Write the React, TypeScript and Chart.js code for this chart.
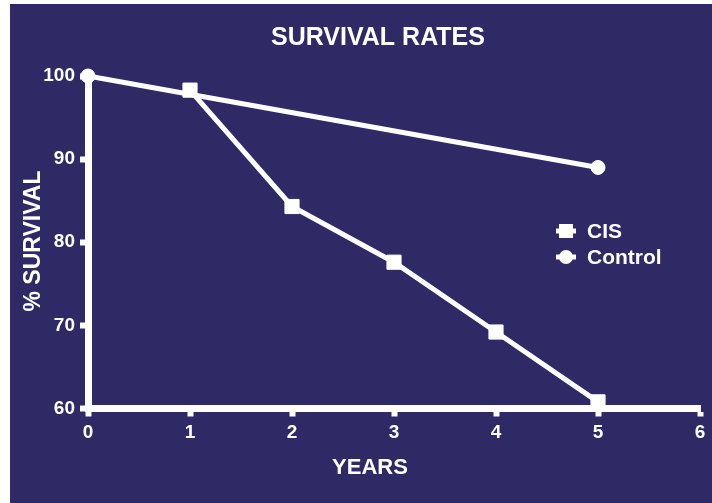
import React, { useEffect, useRef } from "react";
import { Chart, registerables } from "chart.js";

Chart.register(...registerables);

// Survival (%) by year after treatment
const cisYears = [1, 2, 3, 4, 5];
const cisSurvival = [98.3, 84.3, 77.6, 69.2, 60.8];
const controlYears = [0, 5];
const controlSurvival = [100, 89];

const xTicks = [0, 1, 2, 3, 4, 5, 6];
const yTicks = [60, 70, 80, 90, 100];

const NAVY = "#2F2966";
const WHITE = "#FFFFFF";
const FONT = "'Liberation Sans', Arial, Helvetica, sans-serif";

const toPoints = (xs: number[], ys: number[]) => xs.map((x, i) => ({ x, y: ys[i] }));

// Paints the white margin + navy panel, the titles and the legend box
const decorPlugin = {
  id: "decor",
  beforeDraw(chart: any) {
    const { ctx, width, height } = chart;
    ctx.save();
    ctx.fillStyle = WHITE;
    ctx.fillRect(0, 0, width, height);
    ctx.fillStyle = NAVY;
    ctx.fillRect(10, 4, width - 10, height - 4);
    ctx.restore();
  },
  afterDraw(chart: any) {
    const { ctx } = chart;
    ctx.save();
    ctx.fillStyle = WHITE;
    ctx.textAlign = "center";
    ctx.textBaseline = "middle";

    ctx.font = `bold 25px ${FONT}`;
    ctx.fillText("SURVIVAL RATES", 378, 38);

    ctx.font = `bold 22px ${FONT}`;
    ctx.fillText("YEARS", 370, 468);

    ctx.save();
    ctx.font = `bold 23px ${FONT}`;
    ctx.translate(34, 241);
    ctx.rotate(-Math.PI / 2);
    ctx.fillText("% SURVIVAL", 0, 0);
    ctx.restore();

    // legend
    const entries = [
      { label: "CIS", style: "rect", y: 231 },
      { label: "Control", style: "circle", y: 257 },
    ];
    ctx.strokeStyle = WHITE;
    ctx.lineWidth = 5;
    entries.forEach((e) => {
      ctx.beginPath();
      ctx.moveTo(556, e.y);
      ctx.lineTo(576, e.y);
      ctx.stroke();
      ctx.beginPath();
      if (e.style === "rect") {
        ctx.rect(566 - 7, e.y - 7, 14, 14);
      } else {
        ctx.arc(566, e.y, 7, 0, Math.PI * 2);
      }
      ctx.fill();
      ctx.font = `bold 21px ${FONT}`;
      ctx.textAlign = "left";
      ctx.fillText(e.label, 587, e.y + 1);
    });
    ctx.restore();
  },
};

export default function App() {
  const canvasRef = useRef<HTMLCanvasElement | null>(null);

  useEffect(() => {
    document.body.style.margin = "0";
    const canvas = canvasRef.current;
    if (!canvas) return;
    const chart = new Chart(canvas, {
      type: "line",
      data: {
        datasets: [
          {
            label: "CIS",
            data: toPoints(cisYears, cisSurvival),
            borderColor: WHITE,
            backgroundColor: WHITE,
            borderWidth: 5,
            pointStyle: "rect",
            pointRadius: 10,
            pointBorderWidth: 1,
            pointBorderColor: WHITE,
            pointBackgroundColor: WHITE,
          },
          {
            label: "Control",
            data: toPoints(controlYears, controlSurvival),
            borderColor: WHITE,
            backgroundColor: WHITE,
            borderWidth: 5,
            pointStyle: "circle",
            pointRadius: 7,
            pointBorderWidth: 1,
            pointBorderColor: WHITE,
            pointBackgroundColor: WHITE,
          },
        ],
      },
      options: {
        animation: false,
        responsive: false,
        devicePixelRatio: 1,
        clip: false,
        layout: { padding: { top: 76, right: 12, left: 0, bottom: 0 } },
        plugins: {
          legend: { display: false },
          tooltip: { enabled: false },
          title: { display: false },
        },
        scales: {
          x: {
            type: "linear",
            min: 0,
            max: 6,
            afterFit: (s: any) => {
              s.height = 94.5;
            },
            afterBuildTicks: (s: any) => {
              s.ticks = xTicks.map((v) => ({ value: v }));
            },
            ticks: {
              color: WHITE,
              font: { family: FONT, size: 19, weight: "bold" },
              padding: 5,
              maxRotation: 0,
            },
            grid: {
              drawOnChartArea: false,
              drawTicks: true,
              tickLength: 8,
              tickWidth: 6,
              tickColor: WHITE,
            },
            border: { display: true, color: WHITE, width: 7 },
          },
          y: {
            type: "linear",
            min: 60,
            max: 100,
            afterFit: (s: any) => {
              s.width = 88;
            },
            afterBuildTicks: (s: any) => {
              s.ticks = yTicks.map((v) => ({ value: v }));
            },
            ticks: {
              color: WHITE,
              font: { family: FONT, size: 19, weight: "bold" },
              padding: 5,
            },
            grid: {
              drawOnChartArea: false,
              drawTicks: true,
              tickLength: 8,
              tickWidth: 6,
              tickColor: WHITE,
            },
            border: { display: true, color: WHITE, width: 7 },
          },
        },
      },
      plugins: [decorPlugin],
    } as any);
    return () => chart.destroy();
  }, []);

  return (
    <div style={{ width: 712, height: 503 }}>
      <canvas ref={canvasRef} width={712} height={503} style={{ display: "block" }} />
    </div>
  );
}
